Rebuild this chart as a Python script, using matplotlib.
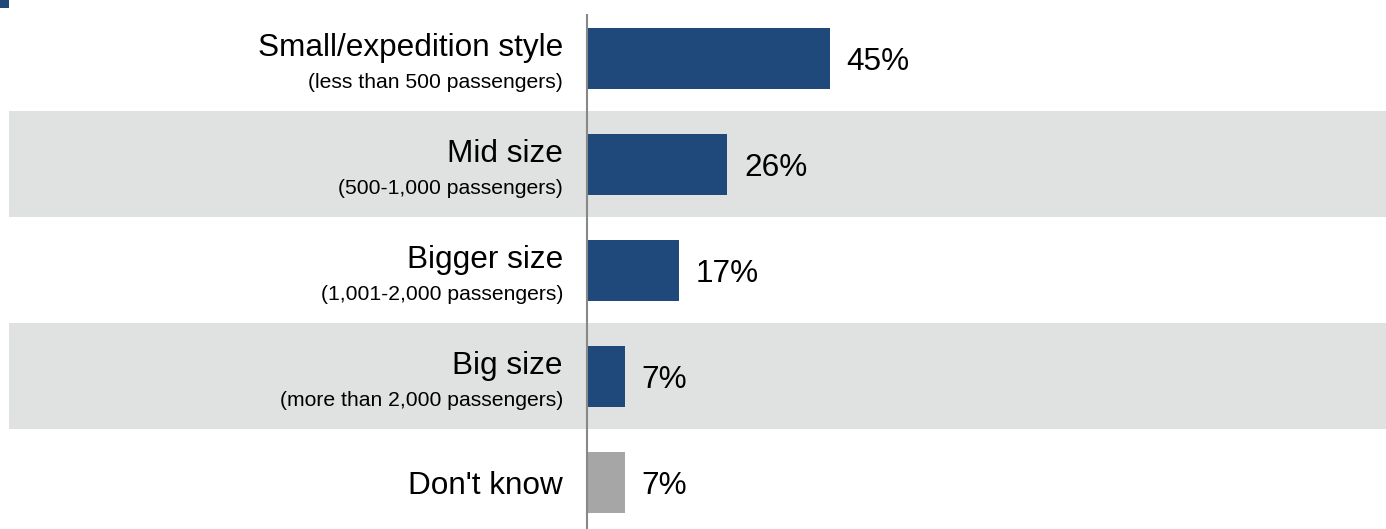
import matplotlib
matplotlib.use("Agg")
import matplotlib.pyplot as plt
from matplotlib.patches import Rectangle

plt.rcParams['font.family'] = ['Liberation Sans', 'DejaVu Sans']

categories = ["Small/expedition style", "Mid size", "Bigger size", "Big size", "Don't know"]
subtitles = ["(less than 500 passengers)", "(500-1,000 passengers)",
             "(1,001-2,000 passengers)", "(more than 2,000 passengers)", ""]
values = [45, 26, 17, 7, 7]
value_labels = ["45%", "26%", "17%", "7%", "7%"]

BLUE = "#1F497A"
GREY_BAR = "#A6A6A6"
BAND = "#E0E1E1"
bar_colors = [BLUE, BLUE, BLUE, BLUE, GREY_BAR]

W, H = 1386, 529
fig = plt.figure(figsize=(W / 100, H / 100), dpi=100)
ax = fig.add_axes([0, 0, 1, 1])

px_per_unit = 5.4
x0_px = 587
row_px = 106
row0_px = 58.5
ax.set_xlim(-x0_px / px_per_unit, (W - x0_px) / px_per_unit)
ax.set_ylim((H - row0_px) / row_px, -row0_px / row_px)
ax.axis('off')

ypos = list(range(len(categories)))

# alternating bands
band_left = (9 - x0_px) / px_per_unit
for i in ypos:
    if i % 2 == 1:
        ax.add_patch(Rectangle((band_left, i - 0.5), 500, 1.0, facecolor=BAND,
                               edgecolor='none', zorder=0))

ax.barh(ypos, values, height=0.58, color=bar_colors, zorder=2)

# vertical axis line
ax.plot([0, 0], [(14 - row0_px) / row_px, (H - row0_px) / row_px], color="#888888",
        lw=1.5, zorder=3, solid_capstyle='butt')

label_x = (563 - x0_px) / px_per_unit
for i, (c, s, v, vl) in enumerate(zip(categories, subtitles, values, value_labels)):
    if s:
        ax.text(label_x, i - 0.024, c, ha='right', va='baseline', fontsize=22.7, color='black')
        ax.text(label_x, i + 0.28, s, ha='right', va='baseline', fontsize=15.2, color='black')
    else:
        ax.text(label_x, i, c, ha='right', va='center_baseline', fontsize=22.7, color='black')
    ax.annotate(vl, xy=(v, i), xytext=(12, 0), textcoords='offset points',
                ha='left', va='center_baseline', fontsize=22.7, color='black')

# small corner mark
fig.patches.append(Rectangle((0, 1 - 8 / H), 9 / W, 8 / H, transform=fig.transFigure,
                             facecolor=BLUE, edgecolor='none'))

fig.savefig("out.png", dpi=100)
